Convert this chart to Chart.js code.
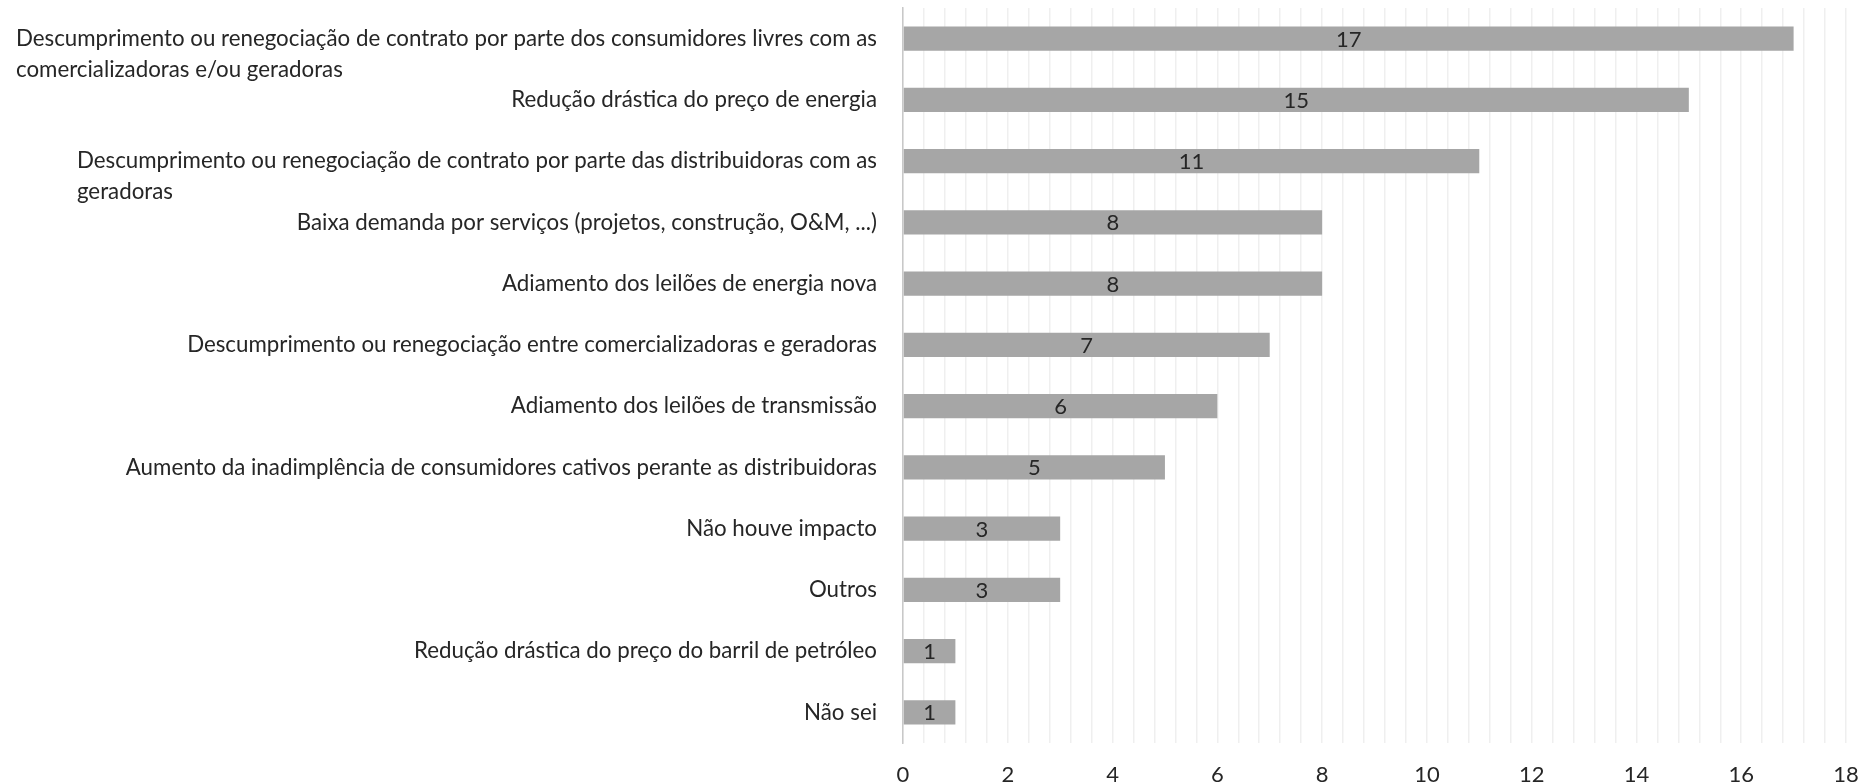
<!DOCTYPE html>
<html>
<head>
<meta charset="utf-8">
<script src="https://cdn.jsdelivr.net/npm/chart.js@4"></script>
<style>
  html, body { margin: 0; padding: 0; background: #fff; }
  #wrap { width: 1862px; height: 784px; position: relative; }
</style>
</head>
<body>
<div id="wrap"><canvas id="chart"></canvas></div>
<script>
// categories (multi-line ones are split like in the source)
const categorias = [
    ["Descumprimento ou renegociação de contrato por parte dos consumidores livres com as", "comercializadoras e/ou geradoras"],
    ["Redução drástica do preço de energia"],
    ["Descumprimento ou renegociação de contrato por parte das distribuidoras com as", "geradoras"],
    ["Baixa demanda por serviços (projetos, construção, O&M, ...)"],
    ["Adiamento dos leilões de energia nova"],
    ["Descumprimento ou renegociação entre comercializadoras e geradoras"],
    ["Adiamento dos leilões de transmissão"],
    ["Aumento da inadimplência de consumidores cativos perante as distribuidoras"],
    ["Não houve impacto"],
    ["Outros"],
    ["Redução drástica do preço do barril de petróleo"],
    ["Não sei"]
];
const respostas = [17, 15, 11, 8, 8, 7, 6, 5, 3, 3, 1, 1];
const eixoX = [0, 2, 4, 6, 8, 10, 12, 14, 16, 18];

const fonte = "Lato";
const corTexto = "#262626";

// draws the category labels Excel style: first line right aligned, next lines left aligned under it
const rotulosY = {
    id: "rotulosY",
    afterDraw(chart) {
        const ctx = chart.ctx;
        const y = chart.scales.y;
        ctx.save();
        ctx.font = "22.3px " + fonte;
        ctx.fillStyle = corTexto;
        ctx.textBaseline = "middle";
        const direita = chart.chartArea.left - 26;
        categorias.forEach(function(linhas, i) {
            const py = y.getPixelForValue(i);
            const w = ctx.measureText(linhas[0]).width;
            ctx.textAlign = "right";
            ctx.fillText(linhas[0], direita, py);
            ctx.textAlign = "left";
            for (let k = 1; k < linhas.length; k++) {
                ctx.fillText(linhas[k], direita - w, py + 31 * k);
            }
        });
        ctx.restore();
    }
};

// value inside each bar
const valores = {
    id: "valores",
    afterDatasetsDraw(chart) {
        const ctx = chart.ctx;
        const meta = chart.getDatasetMeta(0);
        ctx.save();
        ctx.font = "22px " + fonte;
        ctx.fillStyle = corTexto;
        ctx.textAlign = "center";
        ctx.textBaseline = "middle";
        meta.data.forEach(function(bar, i) {
            ctx.fillText(String(respostas[i]), (bar.x + bar.base) / 2, bar.y + 1);
        });
        ctx.restore();
    }
};

new Chart(document.querySelector("canvas#chart"), {
    type: "bar",
    data: {
        labels: categorias.map(l => l.join(" ")),
        datasets: [{
            data: respostas,
            backgroundColor: "#a6a6a6",
            borderWidth: 0,
            barPercentage: 0.393,
            categoryPercentage: 1
        }]
    },
    options: {
        indexAxis: "y",
        responsive: true,
        maintainAspectRatio: false,
        devicePixelRatio: 1,
        animation: false,
        layout: { padding: { top: 8, right: 16, bottom: 0, left: 0 } },
        plugins: { legend: { display: false }, tooltip: { enabled: false } },
        scales: {
            x: {
                min: 0,
                max: 18,
                grid: { color: "#efefef", lineWidth: 1.5, drawTicks: false },
                border: { display: false },
                ticks: {
                    stepSize: 0.4,
                    autoSkip: false,
                    maxRotation: 0,
                    padding: 19,
                    color: corTexto,
                    font: { family: fonte, size: 22 },
                    callback: function(v) {
                        const n = Math.round(v);
                        return Math.abs(v - n) < 1e-6 && eixoX.includes(n) ? String(n) : "";
                    }
                },
                afterFit: function(scale) {
                    scale.height = 41;
                    scale.paddingLeft = 0;
                    scale.paddingRight = 0;
                }
            },
            y: {
                grid: { display: false },
                border: { display: true, color: "#c8c8c8", width: 1.5 },
                ticks: { display: false },
                afterFit: function(scale) { scale.width = 903; }
            }
        }
    },
    plugins: [rotulosY, valores]
});
</script>
</body>
</html>
